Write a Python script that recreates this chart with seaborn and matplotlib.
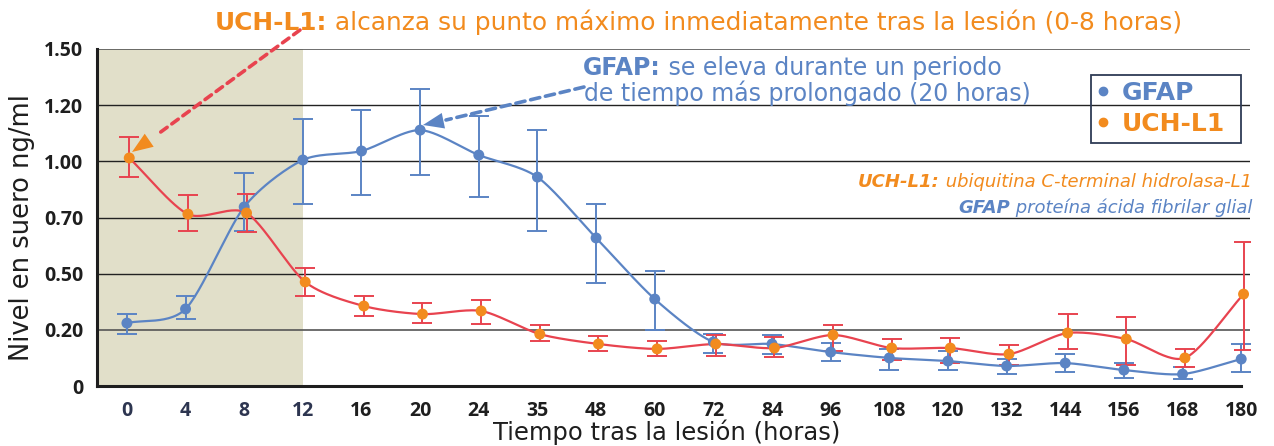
import numpy as np
import matplotlib
matplotlib.use("Agg")
import matplotlib.pyplot as plt
import seaborn as sns
from matplotlib.lines import Line2D
from matplotlib.patches import Rectangle

# ------------------------------------------------------------
# Data
# ------------------------------------------------------------
hours = ["0", "4", "8", "12", "16", "20", "24", "35", "48", "60",
         "72", "84", "96", "108", "120", "132", "144", "156", "168", "180"]

gfap = [0.28, 0.343, 0.797, 1.006, 1.046, 1.139, 1.028, 0.930, 0.659, 0.387,
        0.196, 0.187, 0.151, 0.125, 0.111, 0.089, 0.102, 0.071, 0.053, 0.120]
gfap_lo = [0.23, 0.30, 0.69, 0.81, 0.85, 0.94, 0.84, 0.69, 0.46, 0.25,
           0.148, 0.142, 0.111, 0.071, 0.071, 0.053, 0.062, 0.036, 0.031, 0.062]
gfap_hi = [0.32, 0.40, 0.95, 1.19, 1.23, 1.32, 1.20, 1.14, 0.81, 0.51,
           0.232, 0.227, 0.191, 0.165, 0.156, 0.120, 0.142, 0.102, 0.085, 0.187]

uch = [1.015, 0.765, 0.770, 0.463, 0.356, 0.320, 0.334, 0.231, 0.187, 0.165,
       0.187, 0.169, 0.227, 0.169, 0.169, 0.142, 0.236, 0.209, 0.125, 0.409]
uch_lo = [0.93, 0.69, 0.686, 0.40, 0.312, 0.280, 0.276, 0.200, 0.156, 0.133,
          0.133, 0.129, 0.156, 0.116, 0.102, 0.093, 0.165, 0.093, 0.085, 0.160]
uch_hi = [1.11, 0.85, 0.855, 0.525, 0.401, 0.370, 0.383, 0.271, 0.223, 0.200,
          0.227, 0.218, 0.272, 0.209, 0.214, 0.183, 0.320, 0.307, 0.165, 0.640]

ytick_labels = ["0", "0.20", "0.50", "0.70", "1.00", "1.20", "1.50"]

BLUE = "#5B84C4"
RED = "#E8434F"
ORANGE = "#F28B1E"
SHADE = "#E1DFC9"
INK = "#1E1E1E"
SANS = ["DejaVu Sans"]


def smooth(x, y, n=30, s=0.4):
    # cardinal spline through the points, only for drawing the curve
    P = np.column_stack([x, y]).astype(float)
    P = np.vstack([2 * P[0] - P[1], P, 2 * P[-1] - P[-2]])
    t = np.linspace(0, 1, n)[:, None]
    h00 = 2 * t**3 - 3 * t**2 + 1
    h10 = t**3 - 2 * t**2 + t
    h01 = -2 * t**3 + 3 * t**2
    h11 = t**3 - t**2
    out = []
    for i in range(1, len(P) - 2):
        m1 = s * (P[i + 1] - P[i - 1])
        m2 = s * (P[i + 2] - P[i])
        out.append(h00 * P[i] + h10 * m1 + h01 * P[i + 1] + h11 * m2)
    out = np.vstack(out)
    return out[:, 0], out[:, 1]


# ------------------------------------------------------------
# Figure
# ------------------------------------------------------------
sns.set_style("white")
plt.rcParams["font.family"] = ["Open Sans", "DejaVu Sans"]

fig = plt.figure(figsize=(12.74, 4.46), dpi=100)
ax = fig.add_axes([97 / 1274, 1 - 386 / 446, (1250 - 97) / 1274, (386 - 49) / 446])

pos = np.arange(len(hours))
x_lo, x_hi = -0.51, 19.15
dx = 0.04  # UCH-L1 markers sit a hair right of the tick

ax.axvspan(x_lo, 3, color=SHADE, zorder=0, lw=0)

yt = np.linspace(0, 1.5, 7)
for v in yt[1:]:
    gray = v in (yt[1], yt[-1])
    ax.axhline(v, color="#555555" if gray else "#222222", lw=1.2 if gray else 1.0, zorder=1)

# curves
gx, gy = smooth(pos, gfap)
ux, uy = smooth(pos + dx, uch)
sns.lineplot(x=gx, y=gy, ax=ax, color=BLUE, lw=1.6, sort=False, zorder=3)
sns.lineplot(x=ux, y=uy, ax=ax, color=RED, lw=1.6, sort=False, zorder=3)

# error bars
g = np.array(gfap)
u = np.array(uch)
ax.errorbar(pos, g, yerr=[g - np.array(gfap_lo), np.array(gfap_hi) - g], fmt="none",
            ecolor=BLUE, elinewidth=1.4, capsize=7, capthick=1.4, zorder=2)
ax.errorbar(pos + dx, u, yerr=[u - np.array(uch_lo), np.array(uch_hi) - u], fmt="none",
            ecolor=RED, elinewidth=1.4, capsize=7, capthick=1.4, zorder=2)

# markers
sns.scatterplot(x=pos, y=gfap, ax=ax, color=BLUE, s=62, edgecolor="none", zorder=4)
sns.scatterplot(x=pos + dx, y=uch, ax=ax, color=ORANGE, s=62, edgecolor="none", zorder=5)

ax.set_xlim(x_lo, x_hi)
ax.set_ylim(0, 1.5)
ax.set_xticks(pos)
ax.set_xticklabels(hours, fontsize=14, fontweight="bold")
for i, lab in enumerate(ax.get_xticklabels()):
    lab.set_color("#2D3550" if i <= 3 else INK)
ax.set_yticks(yt)
ax.set_yticklabels(ytick_labels, fontsize=14, fontweight="bold", color=INK)
ax.tick_params(axis="x", length=6, width=1.5, color=INK, pad=5, direction="out")
ax.tick_params(axis="y", length=7, width=1.3, color="#444444", pad=3, direction="out")

for sp in ["top", "right"]:
    ax.spines[sp].set_visible(False)
for sp in ["left", "bottom"]:
    ax.spines[sp].set_color(INK)
    ax.spines[sp].set_linewidth(2.2)
ax.spines["bottom"].set_bounds(x_lo, 19)
ax.set_xlabel("Tiempo tras la lesión (horas)", fontsize=17.5, color=INK, family=SANS)
ax.set_ylabel("Nivel en suero ng/ml", fontsize=18.5, color=INK, family=SANS)
ax.xaxis.set_label_coords((667 - 97) / 1153, (386 - 432) / 337)
ax.yaxis.set_label_coords((22 - 97) / 1153, (386 - 228) / 337)
ax.xaxis.label.set_va("center")
ax.yaxis.label.set_va("center")

# legend (frame drawn separately so its size matches the reference box)
handles = [Line2D([], [], marker="o", ls="none", color=BLUE, markersize=6),
           Line2D([], [], marker="o", ls="none", color=ORANGE, markersize=6)]
leg = ax.legend(handles, ["GFAP", "UCH-L1"], loc="upper left",
                bbox_to_anchor=((1095.5 - 97) / 1153, (386 - 81) / 337), borderaxespad=0,
                frameon=False, prop={"weight": "bold", "size": 18, "family": SANS},
                labelcolor=[BLUE, ORANGE], handletextpad=0.46, handlelength=0.6,
                borderpad=0, labelspacing=0.28)
fig.patches.append(Rectangle((1091 / 1274, 1 - 143 / 446), 150 / 1274, 68 / 446,
                             transform=fig.transFigure, fill=False, ec="#2E3B55", lw=1.3,
                             zorder=6))


def two_part(x, y, bold, rest, color, size, style="normal"):
    # bold lead-in, then the plain remainder glued to its right edge
    t1 = fig.text(x / 1274, 1 - y / 446, bold, color=color, fontsize=size,
                  fontweight="bold", style=style, va="baseline", family=SANS)
    ax.annotate(rest, xy=(1, 0), xycoords=t1, va="bottom", ha="left", family=SANS,
                color=color, fontsize=size, style=style, annotation_clip=False)


def two_part_right(x, y, bold, rest, color, size, style="italic"):
    t2 = fig.text(x / 1274, 1 - y / 446, rest, color=color, fontsize=size,
                  style=style, va="baseline", ha="right", family=SANS)
    ax.annotate(bold, xy=(0, 0), xycoords=t2, va="bottom", ha="right", family=SANS,
                color=color, fontsize=size, style=style, fontweight="bold",
                annotation_clip=False)


two_part(215, 30, "UCH-L1:", " alcanza su punto máximo inmediatamente tras la lesión (0-8 horas)",
         ORANGE, 17.9)
two_part(583, 75, "GFAP:", " se eleva durante un periodo", BLUE, 17)
fig.text(584 / 1274, 1 - 101 / 446, "de tiempo más prolongado (20 horas)", color=BLUE,
         fontsize=17, va="baseline", family=SANS)
two_part_right(1252, 187, "UCH-L1:", " ubiquitina C-terminal hidrolasa-L1", ORANGE, 13)
two_part_right(1252, 213, "GFAP", " proteína ácida fibrilar glial", BLUE, 13)


# arrows: dashed shaft + solid head, placed in figure pixels
def fpx(x, y):
    return (x, 446 - y)


def arrow(start, shaft_end, base, tip, shaft_color, head_color, dash):
    ax.annotate("", xy=fpx(*shaft_end), xytext=fpx(*start), xycoords="figure pixels",
                textcoords="figure pixels", annotation_clip=False,
                arrowprops=dict(arrowstyle="-", color=shaft_color, lw=2.6, ls=dash,
                                shrinkA=0, shrinkB=0))
    ax.annotate("", xy=fpx(*tip), xytext=fpx(*base), xycoords="figure pixels",
                textcoords="figure pixels", annotation_clip=False,
                arrowprops=dict(arrowstyle="-|>,head_length=1.0,head_width=0.38",
                                mutation_scale=15, fc=head_color, ec="none", lw=0,
                                shrinkA=0, shrinkB=0))


arrow((300, 30), (158, 134), (151, 139), (132, 152), RED, ORANGE, (0, (2.2, 1.6)))
arrow((584, 87), (446, 120), (442, 121), (423, 125), BLUE, BLUE, (0, (2.6, 1.6)))

fig.savefig("out.png", dpi=100)
